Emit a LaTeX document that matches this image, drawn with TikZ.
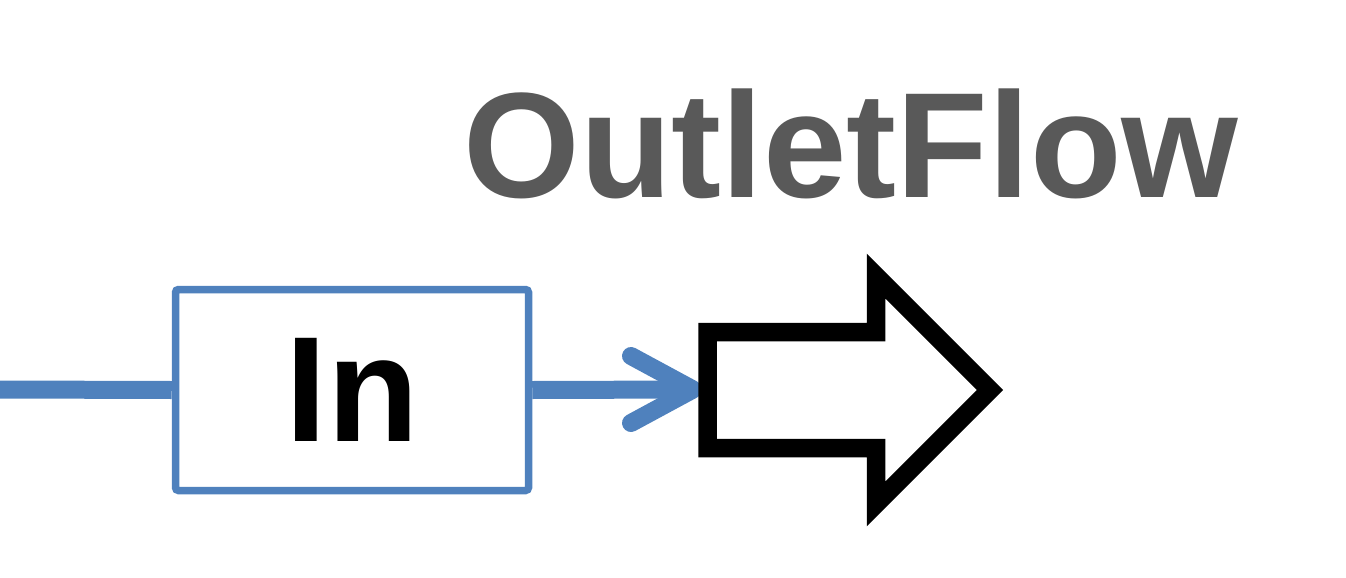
\documentclass[tikz,border=0pt]{standalone}
\usepackage{fontspec}
\setmainfont{Liberation Sans}
\begin{document}
\begin{tikzpicture}[x=1pt,y=-1pt,
  flowblue/.style={draw=flowc, line width=18pt},
  boxstyle/.style={draw=flowc, line width=7.5pt, rounded corners=3pt, minimum width=353pt, minimum height=201pt, inner sep=0pt, fill=white},
  bigarrow/.style={draw=black, line width=18.5pt, miter limit=10, line join=miter}
]
\definecolor{flowc}{RGB}{79,129,189}
\definecolor{labelc}{RGB}{89,89,89}
\useasboundingbox (0,0) rectangle (1346,578);
\coordinate (start) at (0,389.5);
\node[boxstyle] (box) at (352,390) {\fontsize{150}{180}\selectfont\bfseries In};
\coordinate (tip) at (693,389.5);
\coordinate (barbtop) at (631,356);
\coordinate (barbbot) at (631,423);
\draw[flowblue] (start) -- (box.west);
\draw[flowblue] (box.east) -- (tip);
\draw[flowblue, line cap=round, line join=round] (barbtop) -- (tip) -- (barbbot);
\draw[bigarrow] (707.5,332) -- (876,332) -- (876,276) -- (990,390) -- (876,504) -- (876,448) -- (707.5,448) -- cycle;
\node[anchor=base, text=labelc, inner sep=0pt] (label) at (851,197) {\fontsize{150}{180}\selectfont\bfseries OutletFlow};
\end{tikzpicture}
\end{document}
